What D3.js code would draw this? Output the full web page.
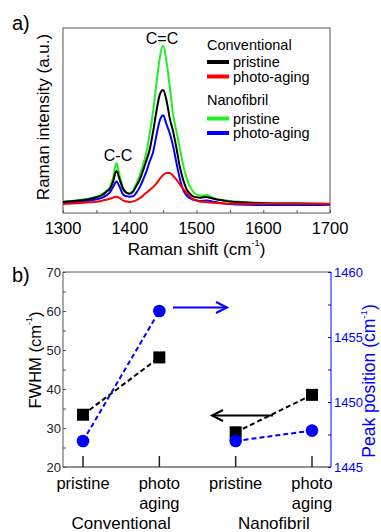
<!DOCTYPE html>
<html>
<head>
<meta charset="utf-8">
<script src="https://cdn.jsdelivr.net/npm/d3@7"></script>
<style>
  html, body { margin: 0; padding: 0; background: #fff; }
  svg { display: block; font-family: "Liberation Sans", Arial, sans-serif; }
</style>
</head>
<body>
<script>
// ---- data: panel a (Raman spectra) ----
const shifts = [1300,1320,1340,1350,1360,1365,1370,1375,1380,1385,1390,1395,1400,1405,1410,1415,1420,1425,1430,1435,1440,1445,1450,1455,1460,1465,1470,1475,1480,1485,1490,1495,1500,1505,1510,1515,1520,1530,1540,1550,1575,1600,1650,1700];
const nanoPristine = [6.1,6.8,7.8,8.8,10.5,12,14,19,27,20,13.5,11,10.6,12.5,16,20.5,26,33,43,55,70,84,90.5,82,68,53,44,35,26,19,14.5,11.5,10,9.5,9.5,9.8,9,7.6,7,6.5,5.8,5.4,5.1,4.9];
const convPristine = [6,6.6,7.6,8.5,10,11.5,13,17,22.8,18,13,11,10.4,11.5,14.8,18,23,28.5,34.5,44,55,64,66.5,61,51,44,35,25,18,13,10.5,9,8.5,8.3,8.5,8.6,8.2,7.3,6.8,6.2,5.7,5.3,5.1,4.9];
const nanoAging = [5.4,6,6.8,7.4,8.5,9.5,11,14,17,14,10,9,8.8,9,11,14,18,22.5,28,33,42,50,52.8,48,43,36,27,18.5,12.5,9.5,8,7.2,6.8,6.5,6.6,6.8,6.5,5.8,5.2,4.8,4.4,4.3,4.3,4.5];
const convAging = [4.9,5.3,5.8,6.1,6.8,7.2,7.7,8.3,8.8,8,6.8,6.2,6,6.3,7,8,9.5,11,12.5,14,16,18.5,20.5,21.6,21.6,20,18,15.5,13,11,9,7.5,6.8,6.2,6,5.9,5.7,5.4,5.2,5.1,5,5,5,5];
const shiftTicks = [1300,1400,1500,1600,1700];

// ---- data: panel b ----
const samples = ["pristine", "photo aging", "pristine ", "photo aging "];
const fwhm = [33.4, 48.1, 28.9, 38.5];
const peakPos = [1447.0, 1457.0, 1447.0, 1447.8];
const groups = ["Conventional", "Nanofibril"];
const fwhmTicks = [20,30,40,50,60,70];
const peakTicks = [1445,1450,1455,1460];

const W = 381, H = 532;
const BLUE = "#0000ff", GREEN = "#22ee22", AXIS = "#555";

const svg = d3.select("body").append("svg")
  .attr("width", W).attr("height", H);

function supTitle(g, x, y, main, rotate, color, size) {
  const t = g.append("text")
    .attr("transform", `translate(${x},${y})` + (rotate ? " rotate(-90)" : ""))
    .attr("text-anchor", "middle")
    .attr("dominant-baseline", "central")
    .attr("font-size", size)
    .attr("fill", color);
  t.append("tspan").text(main + " (cm");
  t.append("tspan").attr("font-size", size * 0.55).attr("dy", -size * 0.35).text("-1");
  t.append("tspan").attr("dy", size * 0.35).text(")");
}

// ─── PANEL A ─────────────────────────────────────────
const a = { l: 63, r: 330, t: 28, b: 213 };
const x = d3.scaleLinear().domain([1300, 1700]).range([a.l, a.r]);
const y = d3.scaleLinear().domain([0, 100]).range([a.b, a.t]);

const ga = svg.append("g");
ga.append("rect")
  .attr("x", a.l).attr("y", a.t)
  .attr("width", a.r - a.l).attr("height", a.b - a.t)
  .attr("fill", "none").attr("stroke", AXIS).attr("stroke-width", 1);

const xAxis = ga.append("g")
  .attr("transform", `translate(0,${a.b})`)
  .call(d3.axisBottom(x).tickValues(d3.range(1300, 1701, 50)).tickSizeInner(-3).tickSizeOuter(0).tickFormat(""));
xAxis.select(".domain").remove();
xAxis.selectAll("line").attr("stroke", AXIS);

ga.selectAll("text.xt")
  .data(shiftTicks)
  .join("text")
    .attr("class", "xt")
    .attr("x", d => x(d))
    .attr("y", 228)
    .attr("text-anchor", "middle")
    .attr("dominant-baseline", "central")
    .attr("font-size", 16.5)
    .text(d => d);

supTitle(ga, (a.l + a.r) / 2, 249, "Raman shift", false, "#000", 17);

ga.append("text")
  .attr("transform", `translate(43,117) rotate(-90)`)
  .attr("text-anchor", "middle")
  .attr("dominant-baseline", "central")
  .attr("font-size", 17)
  .text("Raman intensity (a.u.)");

ga.append("text").attr("x", 12).attr("y", 23)
  .attr("dominant-baseline", "central").attr("font-size", 20).text("a)");

const spectra = [
  { v: nanoPristine, c: GREEN },
  { v: nanoAging, c: BLUE },
  { v: convPristine, c: "#000" },
  { v: convAging, c: "#ff0000" }
];
const line = d3.line().curve(d3.curveMonotoneX);
ga.selectAll("path.spec")
  .data(spectra)
  .join("path")
    .attr("class", "spec")
    .attr("d", s => line(shifts.map((sh, i) => [x(sh), y(s.v[i])])))
    .attr("fill", "none")
    .attr("stroke", s => s.c)
    .attr("stroke-width", 2);

ga.append("text").attr("x", 162).attr("y", 38).attr("text-anchor", "middle")
  .attr("dominant-baseline", "central").attr("font-size", 16).text("C=C");
ga.append("text").attr("x", 118).attr("y", 155).attr("text-anchor", "middle")
  .attr("dominant-baseline", "central").attr("font-size", 16).text("C-C");

// legend
const legend = [
  { type: "head", label: "Conventional", y: 45 },
  { type: "item", label: "pristine", c: "#000", y: 62 },
  { type: "item", label: "photo-aging", c: "#ff0000", y: 76.5 },
  { type: "head", label: "Nanofibril", y: 100 },
  { type: "item", label: "pristine", c: GREEN, y: 118.5 },
  { type: "item", label: "photo-aging", c: BLUE, y: 133 }
];
const lg = ga.append("g");
legend.forEach(d => {
  if (d.type === "item") {
    lg.append("line").attr("x1", 207).attr("x2", 229).attr("y1", d.y).attr("y2", d.y)
      .attr("stroke", d.c).attr("stroke-width", 4);
  }
  lg.append("text")
    .attr("x", d.type === "head" ? 207 : 233)
    .attr("y", d.y)
    .attr("dominant-baseline", "central")
    .attr("font-size", 14.5)
    .text(d.label);
});

// ─── PANEL B ─────────────────────────────────────────
const b = { l: 63, r: 331, t: 272, b: 467 };
const xb = d3.scalePoint().domain(samples).range([83, 312]);
const yL = d3.scaleLinear().domain([20, 70]).range([b.b, b.t]);
const yR = d3.scaleLinear().domain([1445, 1460]).range([b.b, b.t]);

const gb = svg.append("g");
gb.append("line").attr("x1", b.l).attr("x2", b.r).attr("y1", b.t).attr("y2", b.t).attr("stroke", AXIS);
gb.append("line").attr("x1", b.l).attr("x2", b.r).attr("y1", b.b).attr("y2", b.b).attr("stroke", "#222");
gb.append("line").attr("x1", b.l).attr("x2", b.l).attr("y1", b.t).attr("y2", b.b).attr("stroke", AXIS);
gb.append("line").attr("x1", b.r).attr("x2", b.r).attr("y1", b.t).attr("y2", b.b).attr("stroke", BLUE);

const left = gb.append("g").attr("transform", `translate(${b.l},0)`)
  .call(d3.axisLeft(yL).tickValues(d3.range(20, 71, 5)).tickSizeInner(-3).tickSizeOuter(0).tickFormat(""));
left.select(".domain").remove();
left.selectAll("line").attr("stroke", AXIS);
const right = gb.append("g").attr("transform", `translate(${b.r},0)`)
  .call(d3.axisRight(yR).tickValues(d3.range(1445, 1461, 2.5)).tickSizeInner(-3).tickSizeOuter(0).tickFormat(""));
right.select(".domain").remove();
right.selectAll("line").attr("stroke", BLUE);

gb.selectAll("text.yl").data(fwhmTicks).join("text")
  .attr("class", "yl").attr("x", 61).attr("y", d => yL(d))
  .attr("text-anchor", "end").attr("dominant-baseline", "central")
  .attr("font-size", 13).attr("fill", "#222").text(d => d);
gb.selectAll("text.yr").data(peakTicks).join("text")
  .attr("class", "yr").attr("x", 334).attr("y", d => yR(d))
  .attr("dominant-baseline", "central")
  .attr("font-size", 13).attr("fill", BLUE).text(d => d);

supTitle(gb, 35, 360, "FWHM", true, "#000", 16.5);
supTitle(gb, 369, 381, "Peak position", true, BLUE, 17.5);

gb.append("text").attr("x", 12).attr("y", 275)
  .attr("dominant-baseline", "central").attr("font-size", 20).text("b)");

// category ticks
gb.selectAll("line.ct").data(samples).join("line")
  .attr("class", "ct")
  .attr("x1", d => xb(d)).attr("x2", d => xb(d))
  .attr("y1", b.b).attr("y2", b.b - 11)
  .attr("stroke", "#222").attr("stroke-width", 1.5);

// category labels
samples.forEach(s => {
  const words = s.trim().split(" ");
  words.forEach((w, i) => {
    gb.append("text").attr("x", xb(s)).attr("y", 482.5 + i * 20)
      .attr("text-anchor", "middle").attr("dominant-baseline", "central")
      .attr("font-size", 16.5).text(w);
  });
});
groups.forEach((gname, i) => {
  const cx = (xb(samples[i * 2]) + xb(samples[i * 2 + 1])) / 2;
  gb.append("text").attr("x", cx).attr("y", 523)
    .attr("text-anchor", "middle").attr("dominant-baseline", "central")
    .attr("font-size", 17).text(gname);
});

// dashed connectors, per group
[0, 2].forEach(i => {
  gb.append("line")
    .attr("x1", xb(samples[i])).attr("y1", yL(fwhm[i]))
    .attr("x2", xb(samples[i + 1])).attr("y2", yL(fwhm[i + 1]))
    .attr("stroke", "#000").attr("stroke-width", 2).attr("stroke-dasharray", "5,3");
  gb.append("line")
    .attr("x1", xb(samples[i])).attr("y1", yR(peakPos[i]))
    .attr("x2", xb(samples[i + 1])).attr("y2", yR(peakPos[i + 1]))
    .attr("stroke", BLUE).attr("stroke-width", 2).attr("stroke-dasharray", "5,3");
});

gb.selectAll("rect.sq").data(fwhm).join("rect")
  .attr("class", "sq")
  .attr("x", (d, i) => xb(samples[i]) - 6)
  .attr("y", d => yL(d) - 6)
  .attr("width", 12).attr("height", 12)
  .attr("fill", "#000");
gb.selectAll("circle.pk").data(peakPos).join("circle")
  .attr("class", "pk")
  .attr("cx", (d, i) => xb(samples[i]))
  .attr("cy", d => yR(d))
  .attr("r", 6.3)
  .attr("fill", BLUE);

// arrows
function arrow(x1, x2, yy, color) {
  const dir = x2 > x1 ? 1 : -1;
  gb.append("line").attr("x1", x1).attr("x2", x2).attr("y1", yy).attr("y2", yy)
    .attr("stroke", color).attr("stroke-width", 2);
  gb.append("path")
    .attr("d", `M${x2 - dir * 11},${yy - 5.5}L${x2},${yy}L${x2 - dir * 11},${yy + 5.5}`)
    .attr("fill", "none").attr("stroke", color).attr("stroke-width", 2);
}
arrow(173, 227, 307.5, BLUE);
arrow(273, 212, 415.5, "#000");
</script>
</body>
</html>
